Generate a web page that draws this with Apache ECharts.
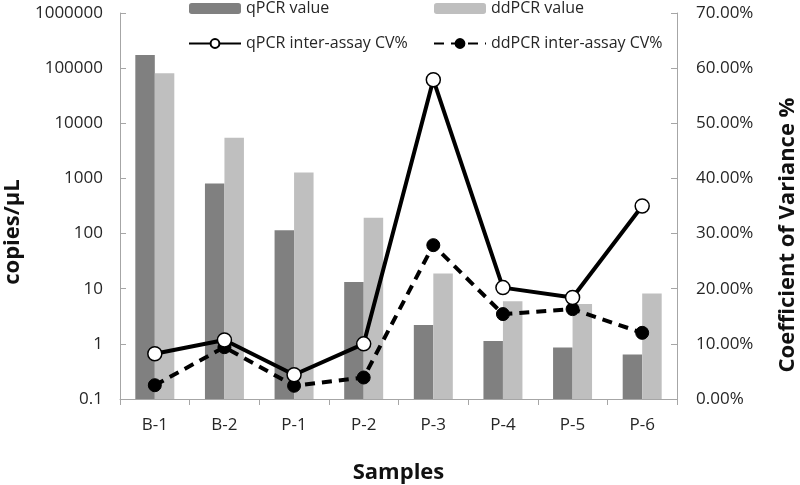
<!DOCTYPE html>
<html>
<head>
<meta charset="utf-8">
<script src="https://cdn.jsdelivr.net/npm/echarts@6/dist/echarts.min.js"></script>
<style>html,body{margin:0;padding:0;background:#fff;}#c{width:800px;height:485px;}</style>
</head>
<body>
<div id="c"></div>
<script>
const categories = ["B-1","B-2","P-1","P-2","P-3","P-4","P-5","P-6"];
const qpcrValue = [173000, 811, 115, 13.3, 2.2, 1.13, 0.86, 0.64];
const ddpcrValue = [80500, 5460, 1285, 193, 18.9, 5.9, 5.3, 8.2];
const qpcrCV = [8.2, 10.7, 4.4, 10.0, 57.9, 20.2, 18.4, 35.0];
const ddpcrCV = [2.5, 9.4, 2.4, 3.9, 27.9, 15.4, 16.3, 12.0];
const leftTickLabels = ["0.1","1","10","100","1000","10000","100000","1000000"];
const rightTickLabels = ["0.00%","10.00%","20.00%","30.00%","40.00%","50.00%","60.00%","70.00%"];

const FONT = "Open Sans";
const axisColor = "#a6a6a6";
const textColor = "#262626";

const chart = echarts.init(document.getElementById('c'), null, {renderer: 'canvas'});
chart.setOption({
  animation: false,
  backgroundColor: '#fff',
  textStyle: {fontFamily: FONT},
  grid: {left: 120, right: 123, top: 13, bottom: 86, containLabel: false, outerBoundsMode: 'none'},
  legend: [
    {
      orient: 'vertical', left: 188, top: -2, padding: 0,
      itemWidth: 52, itemHeight: 11, itemGap: 14,
      textStyle: {fontFamily: FONT, fontSize: 16, color: textColor, lineHeight: 21},
      data: ['qPCR value', 'qPCR inter-assay CV%']
    },
    {
      orient: 'vertical', left: 433, top: -2, padding: 0,
      itemWidth: 52, itemHeight: 11, itemGap: 14,
      textStyle: {fontFamily: FONT, fontSize: 16, color: textColor, lineHeight: 21},
      data: ['ddPCR value', 'ddPCR inter-assay CV%']
    }
  ],
  xAxis: {
    type: 'category',
    data: categories,
    boundaryGap: true,
    name: 'Samples',
    nameLocation: 'middle',
    nameGap: 63,
    nameTextStyle: {fontFamily: FONT, fontSize: 22, fontWeight: 'bold', color: '#111'},
    axisLine: {lineStyle: {color: axisColor, width: 1}},
    axisTick: {show: true, inside: false, length: 6, lineStyle: {color: axisColor}},
    axisLabel: {fontFamily: FONT, fontSize: 17, color: textColor, margin: 18}
  },
  yAxis: [
    {
      type: 'log',
      logBase: 10,
      min: 0.1,
      max: 1000000,
      startValue: 0.1,
      position: 'left',
      name: 'copies/µL',
      nameLocation: 'middle',
      nameGap: 92,
      nameTextStyle: {fontFamily: FONT, fontSize: 22, fontWeight: 'bold', color: '#111', padding: [0, 52, 0, 0]},
      axisLine: {show: true, lineStyle: {color: axisColor, width: 1}},
      axisTick: {show: true, inside: true, length: 6, lineStyle: {color: axisColor}},
      splitLine: {show: false},
      axisLabel: {
        fontFamily: FONT, fontSize: 17, color: textColor, margin: 17,
        formatter: function (v) {
          const i = Math.round(Math.log10(v)) + 1;
          return leftTickLabels[i] !== undefined ? leftTickLabels[i] : '';
        }
      }
    },
    {
      type: 'value',
      min: 0,
      max: 70,
      interval: 10,
      position: 'right',
      name: 'Coefficient of Variance %',
      nameLocation: 'middle',
      nameGap: 100,
      nameTextStyle: {fontFamily: FONT, fontSize: 22, fontWeight: 'bold', color: '#111', padding: [0, 58, 0, 0]},
      axisLine: {show: true, lineStyle: {color: axisColor, width: 1}},
      axisTick: {show: true, inside: true, length: 6, lineStyle: {color: axisColor}},
      splitLine: {show: false},
      axisLabel: {
        fontFamily: FONT, fontSize: 17, color: textColor, margin: 19,
        formatter: function (v) {
          const i = Math.round(v / 10);
          return rightTickLabels[i] !== undefined ? rightTickLabels[i] : '';
        }
      }
    }
  ],
  series: [
    {
      name: 'qPCR value', type: 'bar', yAxisIndex: 0, data: qpcrValue,
      itemStyle: {color: '#808080'}, barGap: '0%', barCategoryGap: '44%', z: 1
    },
    {
      name: 'ddPCR value', type: 'bar', yAxisIndex: 0, data: ddpcrValue,
      itemStyle: {color: '#bfbfbf'}, barGap: '0%', barCategoryGap: '44%', z: 1
    },
    {
      name: 'qPCR inter-assay CV%', type: 'line', yAxisIndex: 1, data: qpcrCV,
      symbol: 'circle', symbolSize: 14,
      lineStyle: {color: '#000', width: 4, type: 'solid'},
      itemStyle: {color: '#fff', borderColor: '#000', borderWidth: 1.5},
      z: 4
    },
    {
      name: 'ddPCR inter-assay CV%', type: 'line', yAxisIndex: 1, data: ddpcrCV,
      symbol: 'circle', symbolSize: 13,
      lineStyle: {color: '#000', width: 4, type: [10, 7]},
      itemStyle: {color: '#000', borderColor: '#000', borderWidth: 1},
      z: 3
    }
  ]
});
</script>
</body>
</html>
